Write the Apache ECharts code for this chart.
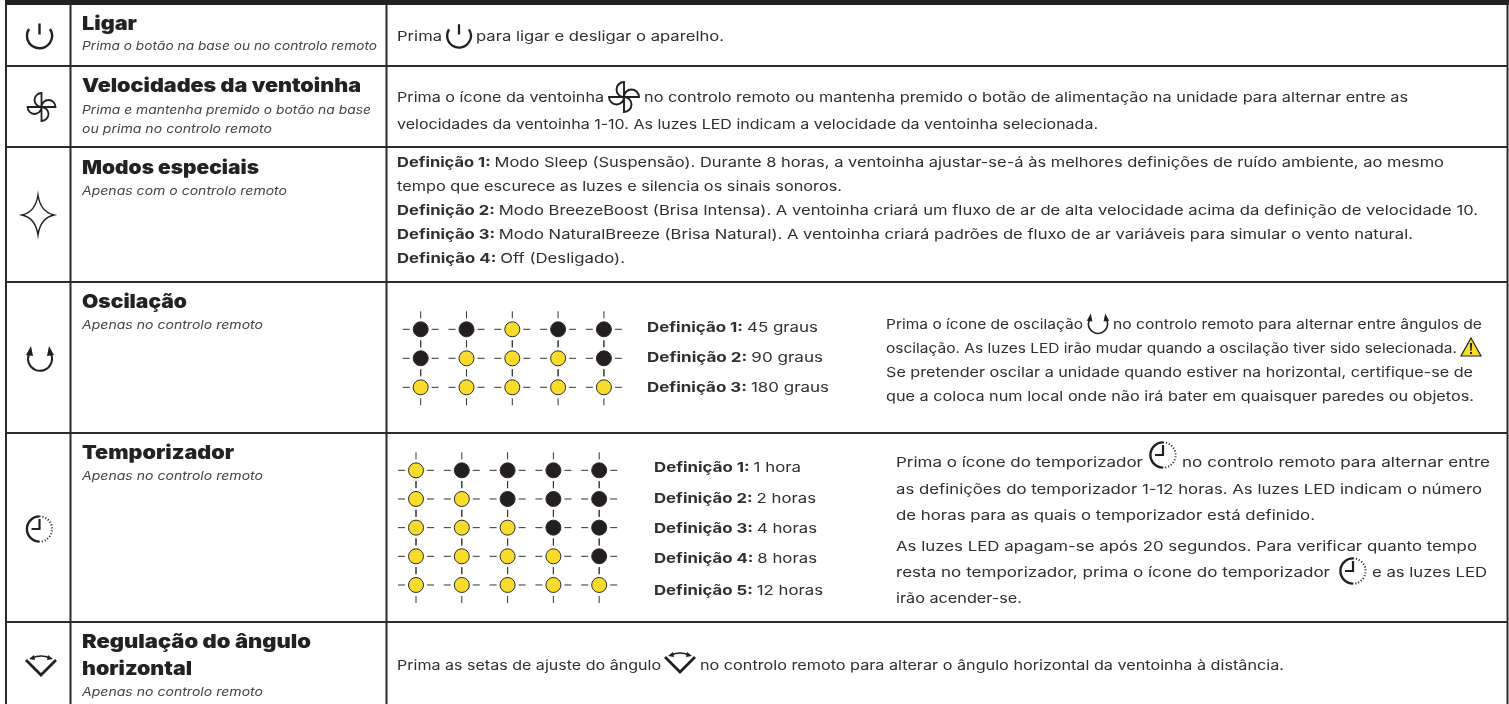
<!DOCTYPE html>
<html>
<head>
<meta charset="utf-8">
<title>Ligar e velocidades</title>
<style>html,body{margin:0;padding:0;background:#fff}#main{width:1509px;height:704px}</style>
<script src="https://cdn.jsdelivr.net/npm/echarts@6/dist/echarts.min.js"></script>
</head>
<body>
<div id="main"></div>
<script>
// conteudo da tabela
var rowTitles = ['Ligar', 'Velocidades da ventoinha', 'Modos especiais', 'Oscilação', 'Temporizador', 'Regulação do ângulo', 'horizontal'];
var rowNotes = ['Prima o botão na base ou no controlo remoto', 'Prima e mantenha premido o botão na base', 'ou prima no controlo remoto',
    'Apenas com o controlo remoto', 'Apenas no controlo remoto', 'Apenas no controlo remoto', 'Apenas no controlo remoto'];
var bodyLines = [
    'Prima', 'para ligar e desligar o aparelho.',
    'Prima o ícone da ventoinha', 'no controlo remoto ou mantenha premido o botão de alimentação na unidade para alternar entre as',
    'velocidades da ventoinha 1-10. As luzes LED indicam a velocidade da ventoinha selecionada.',
    'tempo que escurece as luzes e silencia os sinais sonoros.',
    'Prima o ícone de oscilação', 'no controlo remoto para alternar entre ângulos de',
    'oscilação. As luzes LED irão mudar quando a oscilação tiver sido selecionada.',
    'Se pretender oscilar a unidade quando estiver na horizontal, certifique-se de',
    'que a coloca num local onde não irá bater em quaisquer paredes ou objetos.',
    'Prima o ícone do temporizador', 'no controlo remoto para alternar entre',
    'as definições do temporizador 1-12 horas. As luzes LED indicam o número',
    'de horas para as quais o temporizador está definido.',
    'As luzes LED apagam-se após 20 segundos. Para verificar quanto tempo',
    'resta no temporizador, prima o ícone do temporizador', 'e as luzes LED',
    'irão acender-se.',
    'Prima as setas de ajuste do ângulo', 'no controlo remoto para alterar o ângulo horizontal da ventoinha à distância.'
];
var modeLabels = ['Definição 1:', 'Definição 2:', 'Definição 3:', 'Definição 4:'];
var modeTexts = [
    'Modo Sleep (Suspensão). Durante 8 horas, a ventoinha ajustar-se-á às melhores definições de ruído ambiente, ao mesmo',
    'Modo BreezeBoost (Brisa Intensa). A ventoinha criará um fluxo de ar de alta velocidade acima da definição de velocidade 10.',
    'Modo NaturalBreeze (Brisa Natural). A ventoinha criará padrões de fluxo de ar variáveis para simular o vento natural.',
    'Off (Desligado).'
];
var oscLabels = ['Definição 1:', 'Definição 2:', 'Definição 3:'];
var oscTexts = ['45 graus', '90 graus', '180 graus'];
var timerLabels = ['Definição 1:', 'Definição 2:', 'Definição 3:', 'Definição 4:', 'Definição 5:'];
var timerTexts = ['1 hora', '2 horas', '4 horas', '8 horas', '12 horas'];
// 1 = LED aceso, 0 = apagado
var oscLeds = [
    [0, 0, 1, 0, 0],
    [0, 1, 1, 1, 0],
    [1, 1, 1, 1, 1]
];
var timerLeds = [
    [1, 0, 0, 0, 0],
    [1, 1, 0, 0, 0],
    [1, 1, 1, 0, 0],
    [1, 1, 1, 1, 0],
    [1, 1, 1, 1, 1]
];

// posicoes, pela mesma ordem dos textos: [y, x inicial, x final]
var titlePos = [[24, 82, 137], [86, 82, 361], [168, 82, 259], [302, 82, 187], [453, 82, 234], [642, 82, 311], [669, 82, 192]];
var notePos = [[47, 82, 377], [111, 82, 371], [130, 82, 272], [192, 82, 287], [326, 82, 263], [477, 82, 263], [693, 82, 263]];
var bodyPos = [
    [37, 397, 442], [37, 476, 724],
    [98, 397, 604], [98, 644, 1408],
    [125, 397, 1098],
    [187, 397, 842],
    [325, 886, 1083], [325, 1113, 1482],
    [349, 886, 1457],
    [373, 886, 1473],
    [397, 886, 1474],
    [463, 896, 1143], [463, 1182, 1490],
    [490, 896, 1482],
    [516, 896, 1315],
    [547, 896, 1477],
    [573, 896, 1330], [573, 1372, 1487],
    [599, 896, 1022],
    [666, 397, 661], [666, 700, 1284]
];
var modePos = [[163, 397, 1444], [211, 397, 1478], [235, 397, 1413], [259, 397, 625]];
var oscPos = [[328, 647, 818], [358, 647, 823], [388, 647, 829]];
var timerPos = [[468, 654, 801], [499, 654, 816], [529, 654, 817], [559, 654, 817], [591, 654, 823]];

var DARK = '#231f20', TEXT = '#2f2f2f', NOTE = '#444444', YELLOW = '#f9dc2b';
var FONT = 'Inter, "Open Sans", sans-serif';
var ctx = document.createElement('canvas').getContext('2d');

function fontStr(size, weight, style) {
    return (style || 'normal') + ' ' + weight + ' ' + size + 'px ' + FONT;
}

// uma linha de texto esticada para ocupar de x0 a x1, como na figura
function textRun(parts, pos, size, color, style) {
    var widths = parts.map(function (p) {
        ctx.font = fontStr(size, p.weight, style);
        return ctx.measureText(p.text).width;
    });
    var total = widths.reduce(function (a, b) { return a + b; }, 0);
    var scale = (pos[2] - pos[1]) / total;
    var x = pos[1];
    return parts.map(function (p, i) {
        var el = {
            type: 'text', x: x, y: pos[0], scaleX: scale, silent: true,
            style: {
                text: p.text, fontFamily: FONT, fontSize: size, fontWeight: p.weight, fontStyle: style || 'normal',
                fill: color, textAlign: 'left', textVerticalAlign: 'middle'
            }
        };
        x += widths[i] * scale;
        return el;
    });
}

function labelled(labels, texts, positions, size) {
    var out = [];
    labels.forEach(function (label, i) {
        out = out.concat(textRun([{ text: label + ' ', weight: 700 }, { text: texts[i], weight: 400 }], positions[i], size, TEXT));
    });
    return out;
}

function rule(x1, y1, x2, y2, w) {
    return { type: 'line', silent: true, shape: { x1: x1, y1: y1, x2: x2, y2: y2 }, style: { stroke: '#2b2b2b', lineWidth: w } };
}

// icones desenhados em torno de (0,0)
var icons = {
    power: [{ d: 'M-10.5 -7 A12.5 12.5 0 1 0 10.5 -7 M0 -12.5 L0 -1.5', w: 2.4 }],
    fan: [{ d: 'M0 0 L0 -14 A7 7 0 0 0 0 0 M0 0 L14 0 A7 7 0 0 0 0 0 M0 0 L0 14 A7 7 0 0 0 0 0 M0 0 L-14 0 A7 7 0 0 0 0 0', w: 1.8 }],
    star: [{ d: 'M0 -20 Q2.5 -3 16 0 Q2.5 3 0 20 Q-2.5 3 -16 0 Q-2.5 -3 0 -20 Z', w: 1.4 }],
    osc: [
        { d: 'M-11 -5 A12 12 0 1 0 11 -5', w: 2 },
        { d: 'M-14 -4 L-9 -13 L-7 -3 Z M14 -4 L9 -13 L7 -3 Z', fill: true }
    ],
    timer: [
        { d: 'M0 -12.6 A12.6 12.6 0 0 0 0 12.6', w: 2.4 },
        { d: 'M0 -12.6 A12.6 12.6 0 0 1 0 12.6', w: 2, dash: [1, 2] },
        { d: 'M0 -10 L0 0 L-8 0', w: 2.2 }
    ],
    angle: [
        { d: 'M-15 -6 L0 9 L15 -6', w: 2.8 },
        { d: 'M-9 -8 Q0 -12 9 -8', w: 1.4 },
        { d: 'M-12 -7 L-7 -11 L-6 -6 Z M12 -7 L7 -11 L6 -6 Z', fill: true }
    ],
    warning: [
        { d: 'M0 -9 L10 9 L-10 9 Z', w: 1.2, color: YELLOW },
        { d: 'M-1.1 -4 L1.1 -4 L0.6 4 L-0.6 4 Z M-1 5 L1 5 L1 7 L-1 7 Z', fill: true }
    ]
};

// o componente graphic nao aceita pathData directo, registar cada parte como forma
Object.keys(icons).forEach(function (name) {
    icons[name].forEach(function (p, i) {
        p.shapeName = 'icon_' + name + '_' + i;
        echarts.graphic.registerShape(p.shapeName, echarts.graphic.extendPath(p.d, {}));
    });
});

function icon(name, x, y, s) {
    return icons[name].map(function (p) {
        return {
            type: p.shapeName, x: x, y: y, scaleX: s || 1, scaleY: s || 1, silent: true,
            style: {
                fill: p.color || (p.fill ? DARK : 'none'),
                stroke: p.fill ? 'none' : DARK,
                lineWidth: p.w || 0,
                lineDash: p.dash || null
            }
        };
    });
}

var elements = [
    { type: 'rect', silent: true, shape: { x: 5, y: 0, width: 1504, height: 5 }, style: { fill: '#222222' } },
    rule(6, 4, 6, 704, 2), rule(70.5, 4, 70.5, 704, 2), rule(386.5, 4, 386.5, 704, 2), rule(1507.5, 4, 1507.5, 704, 2),
    rule(6, 66, 1508, 66, 2), rule(6, 147, 1508, 147, 2), rule(6, 282, 1508, 282, 2), rule(6, 433, 1508, 433, 2), rule(6, 622, 1508, 622, 2)
];
rowTitles.forEach(function (t, i) {
    elements = elements.concat(textRun([{ text: t, weight: 900 }], titlePos[i], 19, '#222222'));
});
rowNotes.forEach(function (t, i) {
    elements = elements.concat(textRun([{ text: t, weight: 400 }], notePos[i], 11.5, NOTE, 'italic'));
});
bodyLines.forEach(function (t, i) {
    elements = elements.concat(textRun([{ text: t, weight: 400 }], bodyPos[i], 13.5, TEXT));
});
elements = elements.concat(labelled(modeLabels, modeTexts, modePos, 13.5));
elements = elements.concat(labelled(oscLabels, oscTexts, oscPos, 13.5));
elements = elements.concat(labelled(timerLabels, timerTexts, timerPos, 13.5));

[
    ['power', 39.5, 36, 1], ['fan', 41.5, 107, 1], ['star', 38, 215, 1], ['osc', 40, 359, 1], ['timer', 39.5, 529, 1], ['angle', 41, 666, 1],
    ['power', 459, 36, 0.95], ['fan', 624, 97, 1.07], ['osc', 1098, 324, 0.8], ['warning', 1471, 347, 1],
    ['timer', 1163, 455, 1], ['timer', 1353, 571, 1], ['angle', 680, 663, 1]
].forEach(function (a) {
    elements = elements.concat(icon(a[0], a[1], a[2], a[3]));
});

function ledData(matrix) {
    var out = [];
    matrix.forEach(function (row, r) {
        row.forEach(function (on, c) {
            out.push({
                value: [c, r],
                itemStyle: { color: on ? YELLOW : DARK, borderColor: '#2b2b2b', borderWidth: 1, opacity: 1 }
            });
        });
    });
    return out;
}

function ledSeries(matrix, idx) {
    var base = { type: 'scatter', xAxisIndex: idx, yAxisIndex: idx, silent: true, animation: false, clip: false };
    return [
        Object.assign({}, base, {
            z: 2,
            symbol: 'path://M0 -18V-11M0 11V18M-18 0H-11M11 0H18',
            symbolSize: 36,
            itemStyle: { color: 'none', borderColor: '#333333', borderWidth: 1, opacity: 1 },
            data: ledData(matrix).map(function (d) { return d.value; })
        }),
        Object.assign({}, base, { z: 3, symbol: 'circle', symbolSize: 15, data: ledData(matrix) })
    ];
}

function catAxis(matrixLen, inverse) {
    var data = [];
    for (var i = 0; i < matrixLen; i++) data.push(String(i));
    return { type: 'category', show: false, inverse: !!inverse, data: data };
}

var chart = echarts.init(document.getElementById('main'), null, { renderer: 'canvas' });
chart.setOption({
    animation: false,
    backgroundColor: '#ffffff',
    textStyle: { fontFamily: FONT },
    grid: [
        { left: 397.8, top: 314.8, width: 229, height: 87 },
        { left: 393.1, top: 456, width: 229, height: 143.3 }
    ],
    xAxis: [
        Object.assign(catAxis(5), { gridIndex: 0 }),
        Object.assign(catAxis(5), { gridIndex: 1 })
    ],
    yAxis: [
        Object.assign(catAxis(oscLeds.length, true), { gridIndex: 0 }),
        Object.assign(catAxis(timerLeds.length, true), { gridIndex: 1 })
    ],
    graphic: { elements: elements },
    series: ledSeries(oscLeds, 0).concat(ledSeries(timerLeds, 1))
});
</script>
</body>
</html>
